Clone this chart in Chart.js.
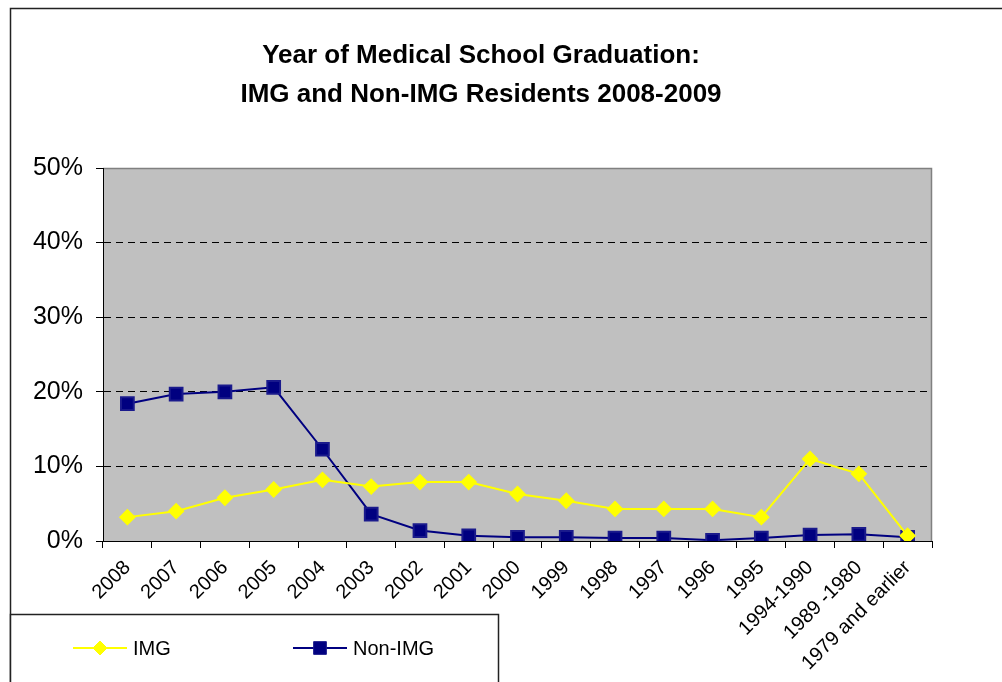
<!DOCTYPE html>
<html>
<head>
<meta charset="utf-8">
<script src="https://cdn.jsdelivr.net/npm/chart.js@4/dist/chart.umd.min.js"></script>
<style>
  body { margin: 0; background: #fff; }
  #wrap { width: 1002px; height: 682px; }
</style>
</head>
<body>
<div id="wrap"><canvas id="gradChart" width="1002" height="682"></canvas></div>
<script>
const anos = ['2008', '2007', '2006', '2005', '2004', '2003', '2002', '2001', '2000', '1999',
  '1998', '1997', '1996', '1995', '1994-1990', '1989 -1980', '1979 and earlier'];
const imgValores = [3.2, 4.0, 5.8, 6.9, 8.2, 7.3, 7.9, 7.9, 6.3, 5.4, 4.3, 4.3, 4.3, 3.2, 11.0, 9.0, 0.7];
const naoImgValores = [18.4, 19.7, 20.0, 20.6, 12.3, 3.6, 1.4, 0.7, 0.5, 0.5, 0.4, 0.4, 0.1, 0.4, 0.8, 0.9, 0.5];
const ticksY = [0, 10, 20, 30, 40, 50];
const titulo = ['Year of Medical School Graduation:', 'IMG and Non-IMG Residents 2008-2009'];

const fonte = '"Liberation Sans", Arial, sans-serif';

// fundo cinza da área do gráfico, moldura externa e legenda em caixa
const molduraPlugin = {
  id: 'moldura',
  beforeDraw(chart) {
    const { ctx, chartArea: a } = chart;
    ctx.save();
    ctx.fillStyle = '#fff';
    ctx.fillRect(0, 0, chart.width, chart.height);
    ctx.strokeStyle = '#222';
    ctx.lineWidth = 1.5;
    ctx.strokeRect(10.5, 8.5, chart.width + 20, chart.height + 20);
    ctx.fillStyle = '#c0c0c0';
    ctx.fillRect(a.left, a.top, a.right - a.left, a.bottom - a.top);
    ctx.strokeStyle = '#808080';
    ctx.lineWidth = 1.5;
    ctx.beginPath();
    ctx.moveTo(a.left, a.top + 0.5);
    ctx.lineTo(a.right - 0.5, a.top + 0.5);
    ctx.lineTo(a.right - 0.5, a.bottom);
    ctx.stroke();
    ctx.restore();
  },
  afterDraw(chart) {
    const { ctx } = chart;
    ctx.save();
    ctx.fillStyle = '#fff';
    ctx.fillRect(10, 614, 488, 80);
    ctx.strokeStyle = '#222';
    ctx.lineWidth = 1.5;
    ctx.strokeRect(10.5, 614.5, 488, 100);
    const posX = [73, 293];
    const y = 648;
    chart.data.datasets.forEach((ds, i) => {
      const x0 = posX[i];
      ctx.strokeStyle = ds.borderColor;
      ctx.lineWidth = 2;
      ctx.beginPath();
      ctx.moveTo(x0, y);
      ctx.lineTo(x0 + 54, y);
      ctx.stroke();
      ctx.fillStyle = ds.pointBackgroundColor;
      ctx.strokeStyle = ds.pointBorderColor;
      ctx.lineWidth = 1;
      Chart.helpers.drawPoint(ctx, { pointStyle: ds.pointStyle, radius: ds.pointRadius, borderWidth: 1 }, x0 + 27, y);
      ctx.fillStyle = '#000';
      ctx.font = '20px ' + fonte;
      ctx.textBaseline = 'middle';
      ctx.fillText(ds.label, x0 + 60, y + 1);
    });
    ctx.restore();
  }
};

new Chart(document.getElementById('gradChart'), {
  type: 'line',
  data: {
    labels: anos,
    datasets: [
      {
        label: 'IMG',
        data: imgValores,
        borderColor: '#ffff00',
        borderWidth: 2,
        pointStyle: 'rectRot',
        pointRadius: 7,
        pointBackgroundColor: '#ffff00',
        pointBorderColor: '#ffff00',
        tension: 0,
      },
      {
        label: 'Non-IMG',
        data: naoImgValores,
        borderColor: '#000080',
        borderWidth: 2,
        pointStyle: 'rect',
        pointRadius: 9,
        pointBackgroundColor: '#000080',
        pointBorderColor: '#1a1a8c',
        tension: 0,
      },
    ],
  },
  options: {
    responsive: false,
    animation: false,
    layout: { padding: { left: 30, right: 70, top: 0, bottom: 0 } },
    plugins: {
      legend: { display: false },
      tooltip: { enabled: false },
      title: {
        display: true,
        text: titulo,
        color: '#000',
        font: { family: fonte, size: 26, weight: 'bold', lineHeight: 1.5 },
        padding: { top: 36, bottom: 54 },
      },
    },
    scales: {
      x: {
        offset: true,
        afterFit(scale) { scale.height = 141; },
        grid: { offset: true, drawOnChartArea: false, drawTicks: true, tickLength: 7, color: '#000' },
        border: { display: true, color: '#000', width: 1 },
        ticks: {
          autoSkip: false,
          minRotation: 45,
          maxRotation: 45,
          padding: 8,
          color: '#000',
          font: { family: fonte, size: 20 },
        },
      },
      y: {
        min: 0,
        max: 50,
        afterFit(scale) { scale.width = 73; },
        afterBuildTicks(scale) { scale.ticks = ticksY.map((v) => ({ value: v })); },
        grid: {
          color: (c) => (c.tick && (c.tick.value === 0 || c.tick.value === 50) ? 'rgba(0,0,0,0)' : '#000'),
          tickColor: '#000',
          tickLength: 7,
          lineWidth: 1,
        },
        border: { display: true, color: '#000', width: 1, dash: [7, 5] },
        ticks: {
          padding: 13,
          color: '#000',
          font: { family: fonte, size: 25 },
          callback: (v) => v + '%',
        },
      },
    },
  },
  plugins: [molduraPlugin],
});
</script>
</body>
</html>
